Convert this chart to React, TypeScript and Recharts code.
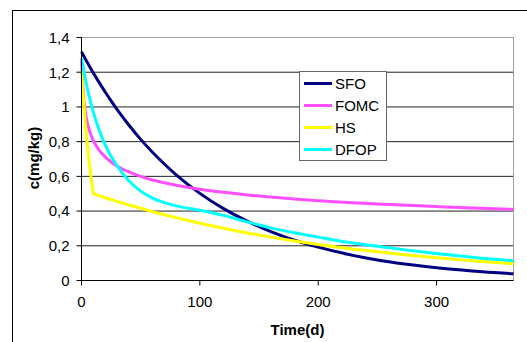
import { LineChart, Line, XAxis, YAxis, CartesianGrid, Legend, ReferenceArea } from 'recharts';

// days after application
const TIME_DAYS = [0, 2, 4, 6, 8, 10, 15, 20, 25, 30, 40, 50, 60, 70, 80, 100, 120, 140, 160, 180, 200, 225, 250, 275, 300, 330, 365];

// residues in mg/kg
const SFO = [1.317, 1.292, 1.267, 1.243, 1.219, 1.196, 1.14, 1.086, 1.035, 0.986, 0.896, 0.813, 0.739, 0.671, 0.609, 0.502, 0.414, 0.342, 0.282, 0.232, 0.192, 0.151, 0.118, 0.093, 0.073, 0.055, 0.039];
const FOMC = [1.28, 1.036, 0.939, 0.88, 0.838, 0.806, 0.75, 0.712, 0.683, 0.66, 0.626, 0.6, 0.579, 0.563, 0.549, 0.526, 0.508, 0.493, 0.481, 0.47, 0.46, 0.45, 0.441, 0.433, 0.426, 0.418, 0.41];
const HS = [1.205, 1.01, 0.847, 0.711, 0.596, 0.5, 0.489, 0.477, 0.467, 0.456, 0.435, 0.416, 0.397, 0.379, 0.362, 0.33, 0.301, 0.274, 0.25, 0.228, 0.208, 0.185, 0.165, 0.147, 0.131, 0.114, 0.097];
const DFOP = [1.282, 1.206, 1.138, 1.076, 1.021, 0.97, 0.866, 0.782, 0.716, 0.662, 0.575, 0.515, 0.475, 0.449, 0.43, 0.405, 0.375, 0.338, 0.303, 0.275, 0.25, 0.22, 0.197, 0.175, 0.155, 0.134, 0.114];

const X_TICKS = [0, 100, 200, 300];
const Y_TICKS = [0, 0.2, 0.4, 0.6, 0.8, 1, 1.2, 1.4];

const SERIES = [
  { key: 'SFO', color: '#000080', curve: 'monotone' },
  { key: 'FOMC', color: '#ff50ff', curve: 'monotone' },
  { key: 'HS', color: '#ffff00', curve: 'linear' },
  { key: 'DFOP', color: '#00ffff', curve: 'monotone' },
] as const;

const chartData = TIME_DAYS.map((t, i) => ({
  t,
  SFO: SFO[i],
  FOMC: FOMC[i],
  HS: HS[i],
  DFOP: DFOP[i],
}));

const FONT = '"Liberation Sans", Arial, sans-serif';

const commaDecimal = (v: number) => String(v).replace('.', ',');

// keep the legend in series order (recharts sorts by name otherwise)
function LegendBox() {
  return (
    <div
      style={{
        boxSizing: 'border-box',
        width: 88,
        height: 90,
        border: '1px solid #666',
        background: '#fff',
        padding: '0 4px',
        fontFamily: FONT,
        fontSize: 15,
        color: '#000',
      }}
    >
      {SERIES.map((s) => (
        <div key={s.key} style={{ display: 'flex', alignItems: 'center', height: 22 }}>
          <span style={{ display: 'inline-block', width: 28, height: 3, background: s.color, marginRight: 3 }} />
          <span style={{ lineHeight: 1 }}>{s.key}</span>
        </div>
      ))}
    </div>
  );
}

export default function App() {
  return (
    <div style={{ position: 'fixed', left: 0, top: 0, width: 527, height: 342, overflow: 'hidden', background: '#fff' }}>
      {/* outer chart frame, runs off the page on right and bottom */}
      <div style={{ position: 'absolute', left: 12, top: 10, width: 700, height: 500, border: '1px solid #000' }} />

      <div style={{ position: 'absolute', left: 0, top: 0 }}>
        <LineChart
          width={527}
          height={342}
          data={chartData}
          margin={{ top: 37.5, right: 13.5, bottom: 31.5, left: 21.5 }}
          style={{ fontFamily: FONT }}
        >
          <CartesianGrid vertical={false} stroke="#222" strokeWidth={1} />
          <ReferenceArea x1={0} x2={365} y1={0} y2={1.4} fill="none" stroke="#a0a0a0" strokeWidth={1} ifOverflow="visible" />
          <XAxis
            type="number"
            dataKey="t"
            domain={[0, 365]}
            ticks={X_TICKS}
            height={30}
            tickSize={5}
            tickMargin={11}
            axisLine={{ stroke: '#000' }}
            tickLine={{ stroke: '#000' }}
            tick={{ fill: '#000', fontSize: 15 }}
          />
          <YAxis
            type="number"
            domain={[0, 1.4]}
            ticks={Y_TICKS}
            width={60}
            tickSize={5}
            tickMargin={7}
            tickFormatter={commaDecimal}
            axisLine={{ stroke: '#000' }}
            tickLine={{ stroke: '#000' }}
            tick={{ fill: '#000', fontSize: 15 }}
          />
          {SERIES.map((s) => (
            <Line
              key={s.key}
              type={s.curve}
              dataKey={s.key}
              name={s.key}
              stroke={s.color}
              strokeWidth={3}
              dot={false}
              activeDot={false}
              isAnimationActive={false}
            />
          ))}
          <Legend
            layout="vertical"
            align="center"
            verticalAlign="middle"
            wrapperStyle={{ left: 299, top: 71, width: 88 }}
            content={<LegendBox />}
          />
        </LineChart>
      </div>

      {/* axis titles */}
      <div
        style={{
          position: 'absolute',
          left: 33,
          top: 158,
          transform: 'translate(-50%, -50%) rotate(-90deg)',
          fontFamily: FONT,
          fontSize: 15,
          fontWeight: 'bold',
          whiteSpace: 'nowrap',
        }}
      >
        c(mg/kg)
      </div>
      <div
        style={{
          position: 'absolute',
          left: 297.5,
          top: 329,
          transform: 'translate(-50%, -50%)',
          fontFamily: FONT,
          fontSize: 15,
          fontWeight: 'bold',
          whiteSpace: 'nowrap',
        }}
      >
        Time(d)
      </div>
    </div>
  );
}
